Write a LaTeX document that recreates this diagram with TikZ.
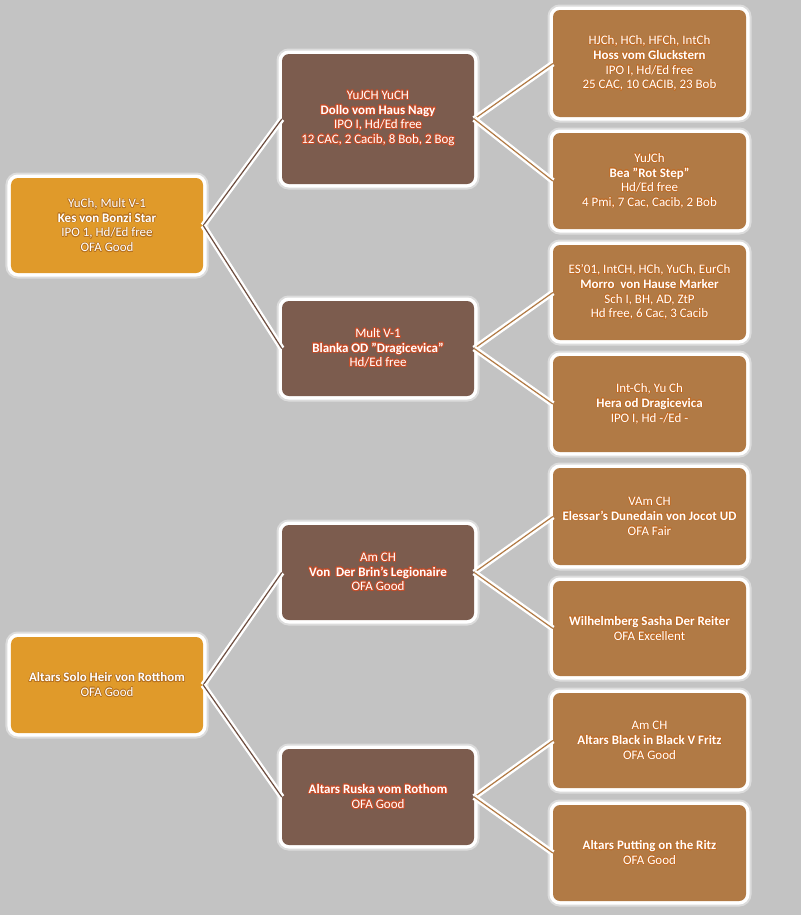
\documentclass[tikz,border=0pt]{standalone}
\usepackage{fontspec}
\setmainfont{Carlito}
\usepackage{contour}
\contourlength{0.7pt}
\definecolor{bg}{HTML}{C3C3C3}
\definecolor{orangeL}{HTML}{E09A2A}
\definecolor{brownM}{HTML}{7C5C4E}
\definecolor{tanR}{HTML}{B17A45}
\definecolor{glowL}{HTML}{B8721F}
\definecolor{glowM}{HTML}{C44E2B}
\definecolor{glowR}{HTML}{C26C26}
\definecolor{haloc}{HTML}{DCDCDC}
\definecolor{lineM}{HTML}{6E4E40}
\colorlet{glowc}{glowM}
\newcommand\gl[1]{\contour{glowc}{#1}}
\newcommand\qq{\char"22\relax}
\tikzset{
  box/.style={rectangle, rounded corners=7bp, minimum width=192bp, inner sep=0pt,
    align=center, text=white, font=\fontsize{13pt}{14.7pt}\selectfont,
    preaction={draw=haloc, line width=11bp},
    preaction={draw=white, line width=7bp}},
  lbox/.style={box, fill=orangeL, execute at begin node={\colorlet{glowc}{glowL}\contourlength{0.6pt}}},
  mbox/.style={box, fill=brownM, execute at begin node={\colorlet{glowc}{glowM}\contourlength{1pt}}},
  rbox/.style={box, fill=tanR, minimum width=193bp, execute at begin node={\colorlet{glowc}{glowR}\contourlength{0.6pt}}},
  conn/.style={draw=white, line width=6bp, postaction={draw=#1, line width=1.2bp}}
}
\begin{document}
\begin{tikzpicture}[x=1bp,y=-1bp]
\useasboundingbox (0,0) rectangle (801,915);
\fill[bg] (0,0) rectangle (801,915);

% left
\node[lbox, minimum height=95bp] (K) at (107,225.5) {\gl{YuCh, Mult V-1}\\\textbf{\gl{Kes von Bonzi Star}}\\\gl{IPO 1, Hd/Ed free}\\\gl{OFA Good}};
\node[lbox, minimum height=96bp] (A) at (107,685) {\textbf{\gl{Altars Solo Heir von Rotthom}}\\\gl{OFA Good}};

% middle
\node[mbox, minimum height=130bp] (D) at (378,119) {\gl{YuJCH YuCH}\\\textbf{\gl{Dollo vom Haus Nagy}}\\\gl{IPO I, Hd/Ed free}\\\gl{12 CAC, 2 Cacib, 8 Bob, 2 Bog}};
\node[mbox, minimum height=95bp] (B) at (378,348.5) {\gl{Mult V-1}\\\textbf{\gl{Blanka OD \qq Dragicevica\qq}}\\\gl{Hd/Ed free}};
\node[mbox, minimum height=95bp] (V) at (378,572.5) {\gl{Am CH}\\\textbf{\gl{Von\ \ Der Brin's Legionaire}}\\\gl{OFA Good}};
\node[mbox, minimum height=96bp] (R) at (378,797) {\textbf{\gl{Altars Ruska vom Rothom}}\\\gl{OFA Good}};

% right
\node[rbox, minimum height=107bp] (H) at (649.5,63.5) {\gl{HJCh, HCh, HFCh, IntCh}\\\textbf{\gl{Hoss vom Gluckstern}}\\\gl{IPO I, Hd/Ed free}\\\gl{25 CAC, 10 CACIB, 23 Bob}};
\node[rbox, minimum height=96bp] (Be) at (649.5,181) {\gl{YuJCh}\\\textbf{\gl{Bea \qq Rot Step\qq}}\\\gl{Hd/Ed free}\\\gl{4 Pmi, 7 Cac, Cacib, 2 Bob}};
\node[rbox, minimum height=95bp] (M) at (649.5,292.5) {\gl{ES'01, IntCH, HCh, YuCh, EurCh}\\\textbf{\gl{Morro\ \ von Hause Marker}}\\\gl{Sch I, BH, AD, ZtP}\\\gl{Hd free, 6 Cac, 3 Cacib}};
\node[rbox, minimum height=96bp] (He) at (649.5,404) {\gl{Int-Ch, Yu Ch}\\\textbf{\gl{Hera od Dragicevica}}\\\gl{IPO I, Hd -/Ed -}};
\node[rbox, minimum height=97bp] (E) at (649.5,516.5) {\gl{VAm CH}\\\textbf{\gl{Elessar's Dunedain von Jocot UD}}\\\gl{OFA Fair}};
\node[rbox, minimum height=95bp] (W) at (649.5,628.5) {\textbf{\gl{Wilhelmberg Sasha Der Reiter}}\\\gl{OFA Excellent}};
\node[rbox, minimum height=95bp] (Bl) at (649.5,740.5) {\gl{Am CH}\\\textbf{\gl{Altars Black in Black V Fritz}}\\\gl{OFA Good}};
\node[rbox, minimum height=96bp] (P) at (649.5,853) {\textbf{\gl{Altars Putting on the Ritz}}\\\gl{OFA Good}};

% connectors
\draw[conn=lineM] (K.east) -- (D.west);
\draw[conn=lineM] (K.east) -- (B.west);
\draw[conn=lineM] (A.east) -- (V.west);
\draw[conn=lineM] (A.east) -- (R.west);
\draw[conn=tanR] (D.east) -- (H.west);
\draw[conn=tanR] (D.east) -- (Be.west);
\draw[conn=tanR] (B.east) -- (M.west);
\draw[conn=tanR] (B.east) -- (He.west);
\draw[conn=tanR] (V.east) -- (E.west);
\draw[conn=tanR] (V.east) -- (W.west);
\draw[conn=tanR] (R.east) -- (Bl.west);
\draw[conn=tanR] (R.east) -- (P.west);
\end{tikzpicture}
\end{document}
